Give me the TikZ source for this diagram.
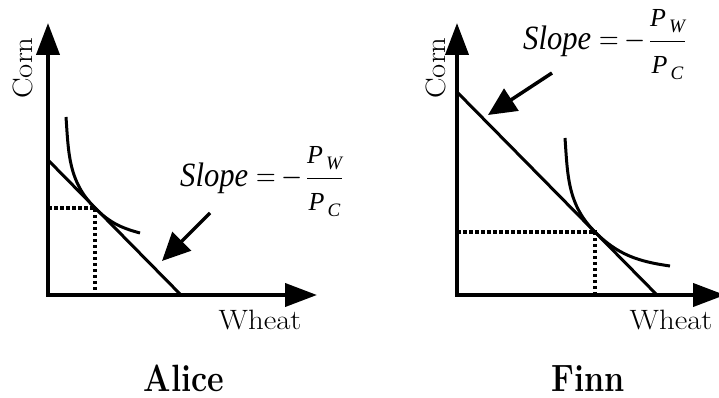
\RequirePackage{fix-cm}
\documentclass[tikz,border=0pt]{standalone}
\usepackage{amsmath}
\usepackage{graphicx}
\usepackage{fontspec}
\newfontfamily\eqfont{Liberation Serif}
\usepackage{tikz}
\usetikzlibrary{arrows.meta}
\newcommand{\wide}[1]{\scalebox{1.1}[1]{#1}}
\newcommand{\price}[1]{\mbox{\fontsize{26}{26}\selectfont\itshape P\hspace{3pt}\raisebox{-6pt}{\fontsize{19}{19}\selectfont #1}}}
\newcommand{\slopeeq}{\scalebox{.9}[1]{\textit{Slope}}\hspace{8pt}%
  \scalebox{.8}[1]{$=$}\hspace{6pt}\scalebox{.8}[1]{$-$}\hspace{3pt}%
  $\dfrac{\price{W}}{\price{C}}$}
\tikzset{
  axis/.style={
    line width=4pt,
    {Triangle[length=32pt,width=23pt]}-{Triangle[length=32pt,width=23pt]}
  },
  budget/.style={line width=3pt},
  indiff/.style={line width=3pt},
  guide/.style={line width=3.5pt,dash pattern=on 3.5pt off 2.5pt},
  pointer/.style={line width=3.5pt,-{Triangle[length=28pt,width=26pt]}},
  axlabel/.style={
    font=\fontsize{28}{32}\selectfont,
    inner sep=0pt,
    anchor=base
  },
  who/.style={
    font=\fontsize{38}{44}\selectfont\bfseries,
    inner sep=0pt,
    anchor=base
  },
  slopelabel/.style={
    font=\fontsize{34}{40}\selectfont\eqfont,
    inner sep=0pt,
    anchor=base west
  }
}

\begin{document}
\begin{tikzpicture}[x=1pt,y=1pt]
  \clip (0,0) rectangle (719,398);
  % Alice
  \coordinate (ao) at (48,103);
  \coordinate (ay) at (48,375);
  \coordinate (ax) at (317,103);
  \coordinate (ab1) at (48,238);
  \coordinate (ab2) at (181,103);
  \coordinate (at) at (95,190);
  \coordinate (atx) at (95,103);
  \coordinate (aty) at (48,190);
  \coordinate (ai1) at (66,281);
  \coordinate (ai2) at (140,165);
  \coordinate (ap1) at (210,185);
  \coordinate (ap2) at (162,137);
  \draw[guide] (aty) -- (at) -- (atx);
  \draw[axis] (ay) -- (ao) -- (ax);
  \draw[budget] (ab1) -- (ab2);
  \draw[indiff] (ai1) to[out=-86,in=135] (at) to[out=-45,in=165] (ai2);
  \node[slopelabel] (aslope) at (180,211) {\slopeeq};
  \draw[pointer] (ap1) -- (ap2);
  \node[axlabel] (awheat) at (260,68) {\wide{Wheat}};
  \node[axlabel,rotate=90] (acorn) at (32,330) {\wide{Corn}};
  \node[who] (alice) at (184,6) {\scalebox{.85}[1]{Alice}};
  % Finn
  \coordinate (fo) at (457,103);
  \coordinate (fy) at (457,375);
  \coordinate (fx) at (725,103);
  \coordinate (fb1) at (457,306);
  \coordinate (fb2) at (657,103);
  \coordinate (ft) at (595,166);
  \coordinate (ftx) at (595,103);
  \coordinate (fty) at (457,166);
  \coordinate (fi1) at (565,260);
  \coordinate (fi2) at (670,132);
  \coordinate (fp1) at (552,325);
  \coordinate (fp2) at (488,283);
  \draw[guide] (fty) -- (ft) -- (ftx);
  \draw[axis] (fy) -- (fo) -- (fx);
  \draw[budget] (fb1) -- (fb2);
  \draw[indiff] (fi1) to[out=-86,in=135] (ft) to[out=-45,in=172] (fi2);
  \node[slopelabel] (fslope) at (523,348) {\slopeeq};
  \draw[pointer] (fp1) -- (fp2);
  \node[axlabel] (fwheat) at (671,68) {\wide{Wheat}};
  \node[axlabel,rotate=90] (fcorn) at (445,330) {\wide{Corn}};
  \node[who] (finn) at (588,6) {\scalebox{.85}[1]{Finn}};
\end{tikzpicture}
\end{document}
